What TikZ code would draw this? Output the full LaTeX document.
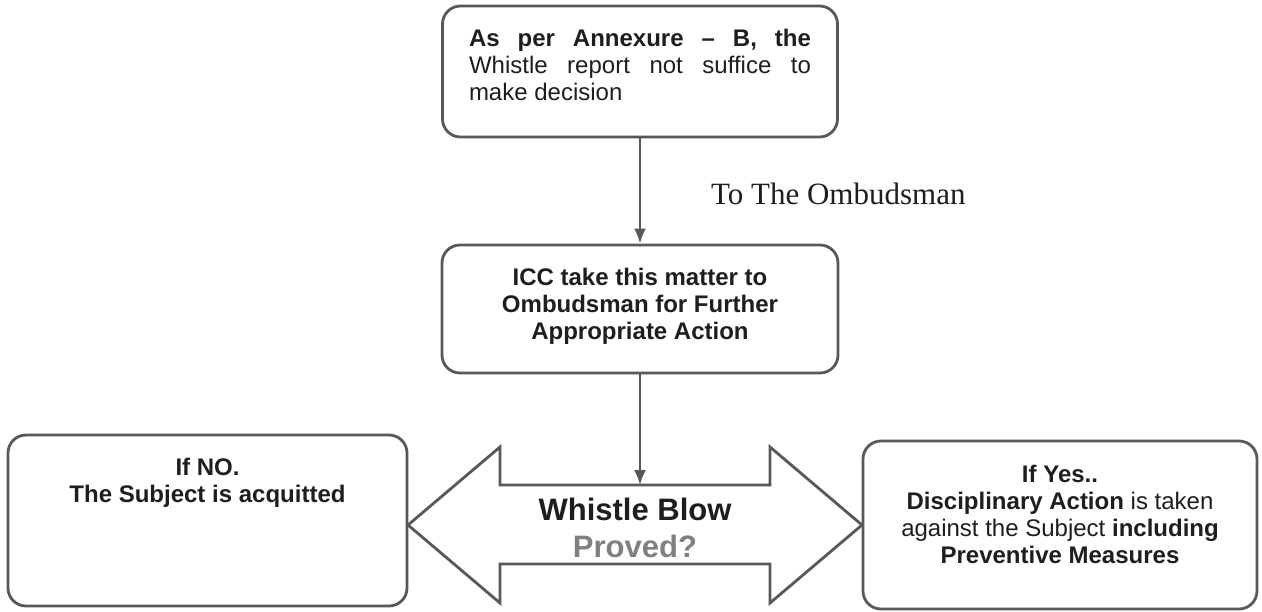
\documentclass[tikz,border=0pt]{standalone}
\usepackage{fontspec}
\setmainfont{Liberation Sans}
\newfontfamily\timesface{Liberation Serif}
\usetikzlibrary{arrows.meta}
\usetikzlibrary{positioning}
\definecolor{linegray}{RGB}{88,88,88}
\definecolor{textdark}{RGB}{30,30,30}
\definecolor{provedgray}{RGB}{128,128,128}
\setlength{\parindent}{0pt}
\hyphenpenalty=10000
\exhyphenpenalty=10000

\begin{document}
\begin{tikzpicture}[x=1pt,y=-1pt,>={Latex[length=15pt,width=12pt]},
  box/.style={draw=linegray,line width=2.8pt,rounded corners=18pt,fill=white},
  boxtext/.style={anchor=north,inner sep=0pt,text=textdark,font=\fontsize{24}{27}\selectfont},
  boxbold/.style={boxtext,align=center,font=\fontsize{24}{27}\selectfont\bfseries},
  flow/.style={->,draw=linegray,fill=linegray,line width=2.2pt},
  ombud/.style={inner sep=0pt,text=textdark,font=\timesface\fontsize{31}{36}\selectfont},
  blowline/.style={draw=linegray,line width=2.8pt,fill=white,line join=miter}]

  \useasboundingbox (0,0) rectangle (1262,611);

  % boxes
  \node[box,minimum width=395pt,minimum height=131pt] (annex) at (640,71.5) {};
  \node[box,minimum width=396pt,minimum height=128pt] (icc) at (640,309) {};
  \node[box,minimum width=399pt,minimum height=171pt] (no) at (207.5,520.5) {};
  \node[box,minimum width=394pt,minimum height=168pt] (yes) at (1060,525) {};

  % texts inside the boxes
  \node[boxtext,text width=342pt,align=justify,below=24pt of annex.north] (annextext)
    {\textbf{As per Annexure – B, the} Whistle report not suffice to make decision};
  \node[boxbold,below=24pt of icc.north] (icctext)
    {ICC take this matter to\\Ombudsman for Further\\Appropriate Action};
  \node[boxbold,below=24pt of no.north] (notext)
    {If NO.\\The Subject is acquitted};
  \node[boxtext,align=center,below=25pt of yes.north] (yestext)
    {\textbf{If Yes..}\\\textbf{Disciplinary Action} is taken\\against the Subject \textbf{including}\\\textbf{Preventive Measures}};

  % double arrow
  \draw[blowline] (408,525) -- (500,447) -- (500,485) -- (770,485) -- (770,447)
    -- (862,525) -- (770,603) -- (770,564) -- (500,564) -- (500,603) -- cycle;
  \coordinate (blowtop) at (640,485);
  \node[inner sep=0pt,align=center,font=\bfseries\fontsize{31}{37}\selectfont] (blow) at (635,528)
    {\textcolor{textdark}{Whistle Blow}\\\textcolor{provedgray}{Proved?}};

  % connectors
  \draw[flow] (annex) -- node[ombud,right=70pt,yshift=-3pt] (ombudlbl) {To The Ombudsman} (icc);
  \draw[flow] (icc) -- (blowtop);
\end{tikzpicture}
\end{document}
